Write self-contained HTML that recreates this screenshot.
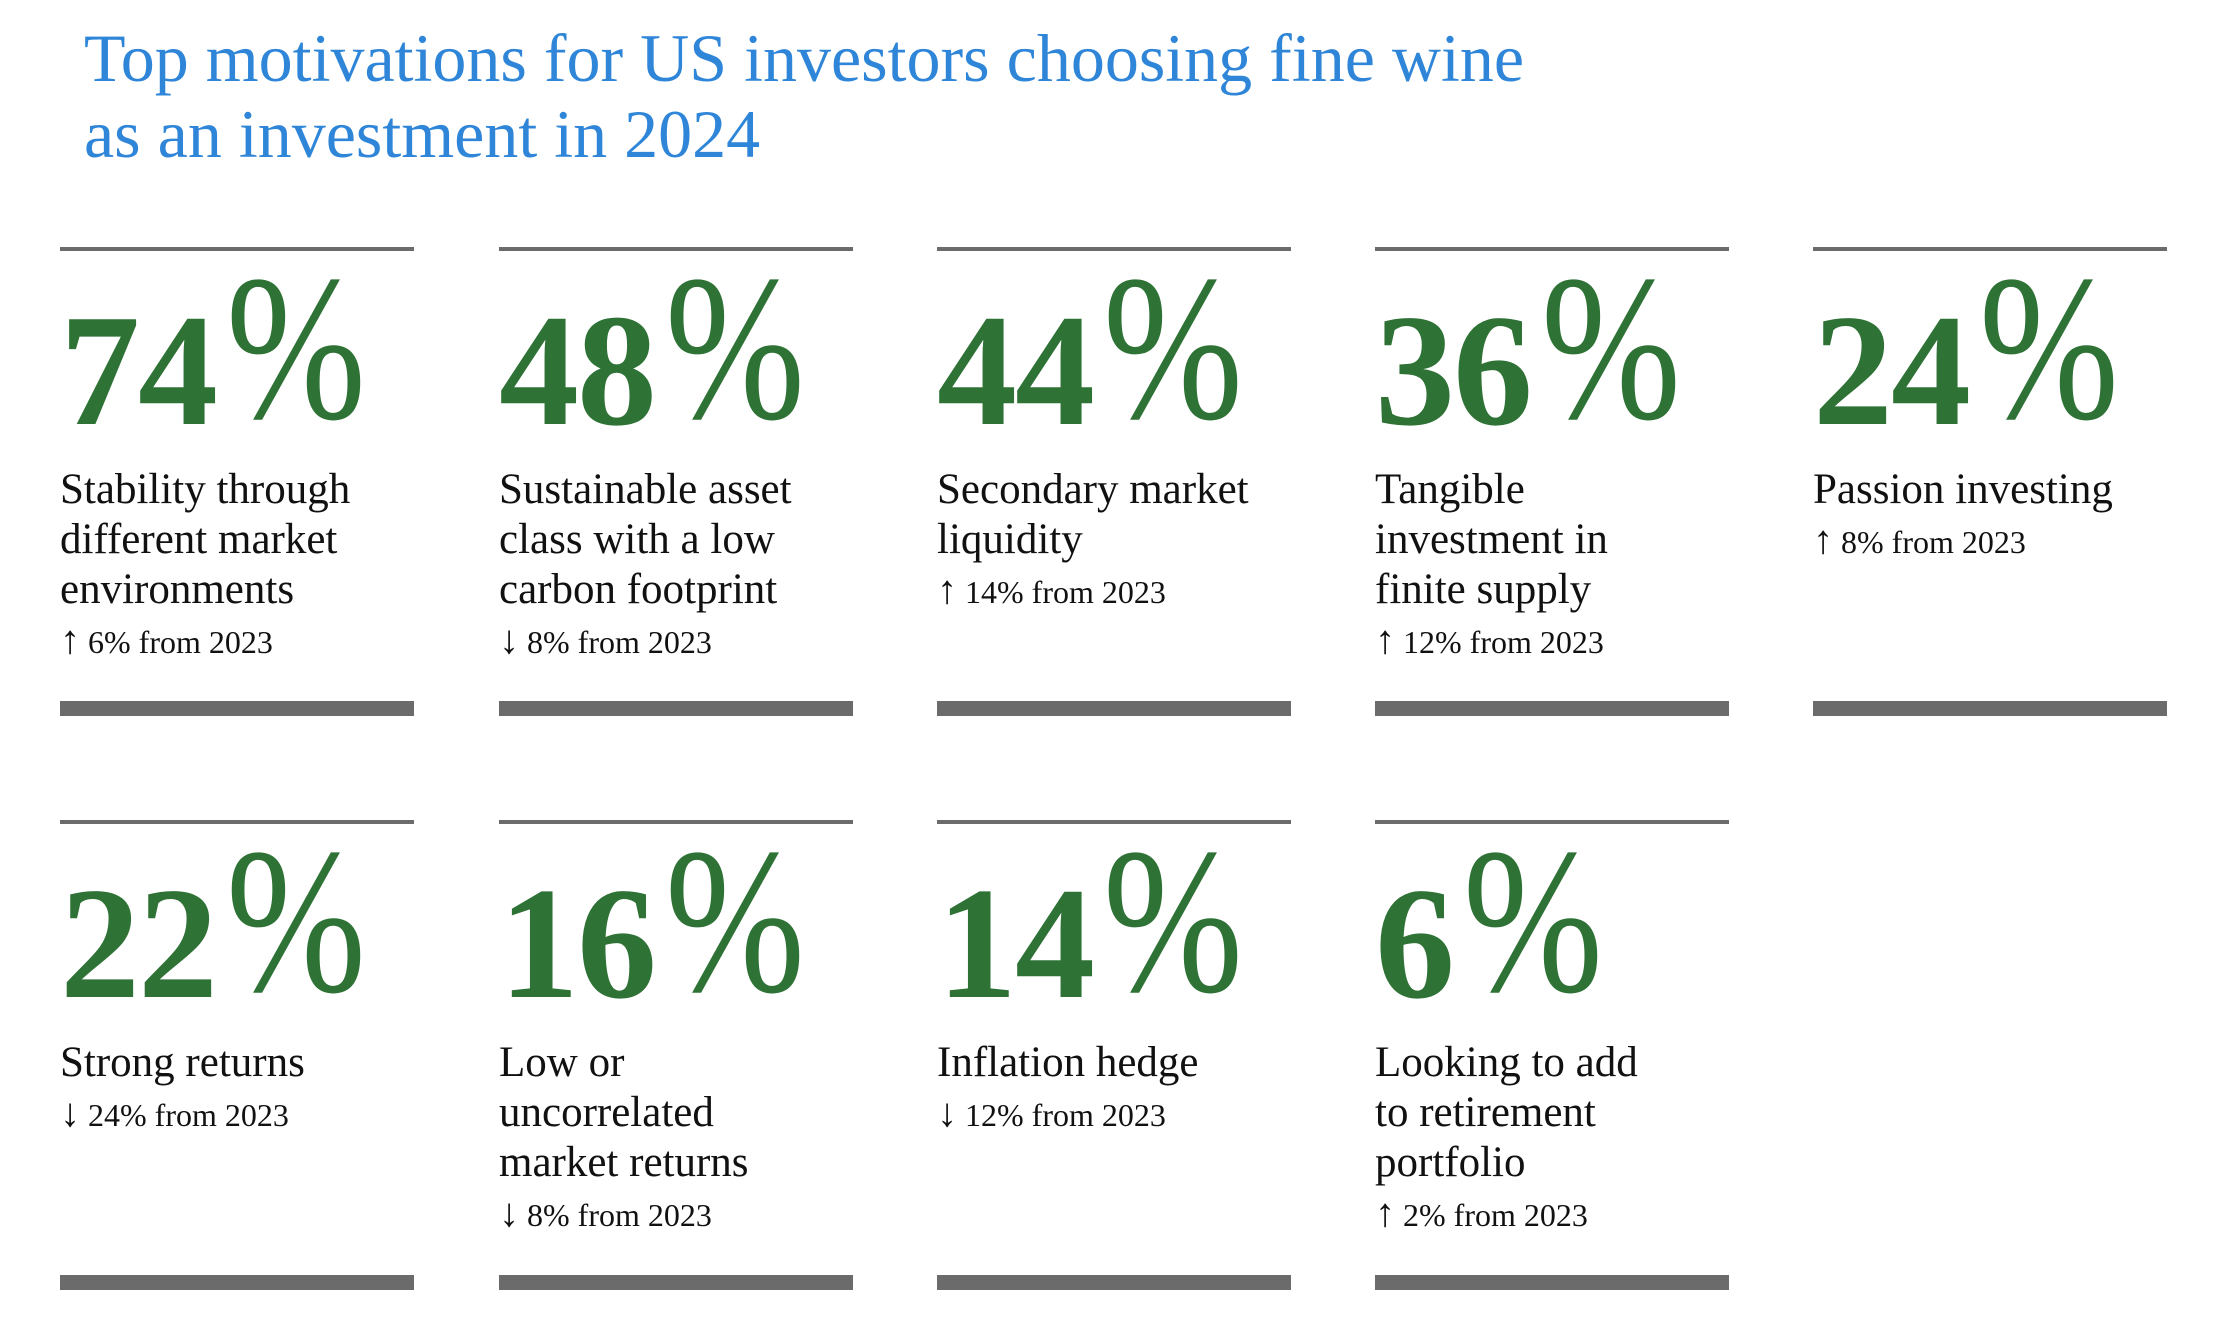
<!DOCTYPE html>
<html><head><meta charset="utf-8"><style>
body{margin:0;width:2215px;height:1341px;background:#fff;position:relative;overflow:hidden;font-family:"Liberation Serif",serif;}
.t{position:absolute;left:84px;top:20px;color:#2f86d8;font-size:68px;line-height:76px;}
.c{position:absolute;width:354px;}
.r1{position:absolute;left:0;top:0;width:354px;height:4px;background:#6b6b6b;}
.r2{position:absolute;left:0;width:354px;height:15px;background:#6b6b6b;}
.n{position:absolute;left:0;top:48px;color:#2e7236;font-weight:bold;font-size:160px;line-height:150px;white-space:nowrap;letter-spacing:-2px;}
.n .p{display:inline-block;font-weight:normal;transform:scale(1.05,1.3);transform-origin:left bottom;margin-left:10px;}
.d{position:absolute;left:0;top:218px;font-size:43px;line-height:50px;color:#111;white-space:nowrap;}
.s{font-size:32px;line-height:50px;}
.a{font-size:40px;}
</style></head><body>
<div class="t">Top motivations for US investors choosing fine wine<br>as an investment in 2024</div>

<div class="c" style="left:60px;top:247px;"><div class="r1"></div><div class="n">74<span class="p">%</span></div><div class="d">Stability through<br>different market<br>environments<br><span class="s"><span class="a">↑</span> 6% from 2023</span></div><div class="r2" style="top:454px"></div></div>
<div class="c" style="left:499px;top:247px;"><div class="r1"></div><div class="n">48<span class="p">%</span></div><div class="d">Sustainable asset<br>class with a low<br>carbon footprint<br><span class="s"><span class="a">↓</span> 8% from 2023</span></div><div class="r2" style="top:454px"></div></div>
<div class="c" style="left:937px;top:247px;"><div class="r1"></div><div class="n">44<span class="p">%</span></div><div class="d">Secondary market<br>liquidity<br><span class="s"><span class="a">↑</span> 14% from 2023</span></div><div class="r2" style="top:454px"></div></div>
<div class="c" style="left:1375px;top:247px;"><div class="r1"></div><div class="n">36<span class="p">%</span></div><div class="d">Tangible<br>investment in<br>finite supply<br><span class="s"><span class="a">↑</span> 12% from 2023</span></div><div class="r2" style="top:454px"></div></div>
<div class="c" style="left:1813px;top:247px;"><div class="r1"></div><div class="n">24<span class="p">%</span></div><div class="d">Passion investing<br><span class="s"><span class="a">↑</span> 8% from 2023</span></div><div class="r2" style="top:454px"></div></div>

<div class="c" style="left:60px;top:820px;"><div class="r1"></div><div class="n">22<span class="p">%</span></div><div class="d">Strong returns<br><span class="s"><span class="a">↓</span> 24% from 2023</span></div><div class="r2" style="top:455px"></div></div>
<div class="c" style="left:499px;top:820px;"><div class="r1"></div><div class="n">16<span class="p">%</span></div><div class="d">Low or<br>uncorrelated<br>market returns<br><span class="s"><span class="a">↓</span> 8% from 2023</span></div><div class="r2" style="top:455px"></div></div>
<div class="c" style="left:937px;top:820px;"><div class="r1"></div><div class="n">14<span class="p">%</span></div><div class="d">Inflation hedge<br><span class="s"><span class="a">↓</span> 12% from 2023</span></div><div class="r2" style="top:455px"></div></div>
<div class="c" style="left:1375px;top:820px;"><div class="r1"></div><div class="n">6<span class="p">%</span></div><div class="d">Looking to add<br>to retirement<br>portfolio<br><span class="s"><span class="a">↑</span> 2% from 2023</span></div><div class="r2" style="top:455px"></div></div>
</body></html>
